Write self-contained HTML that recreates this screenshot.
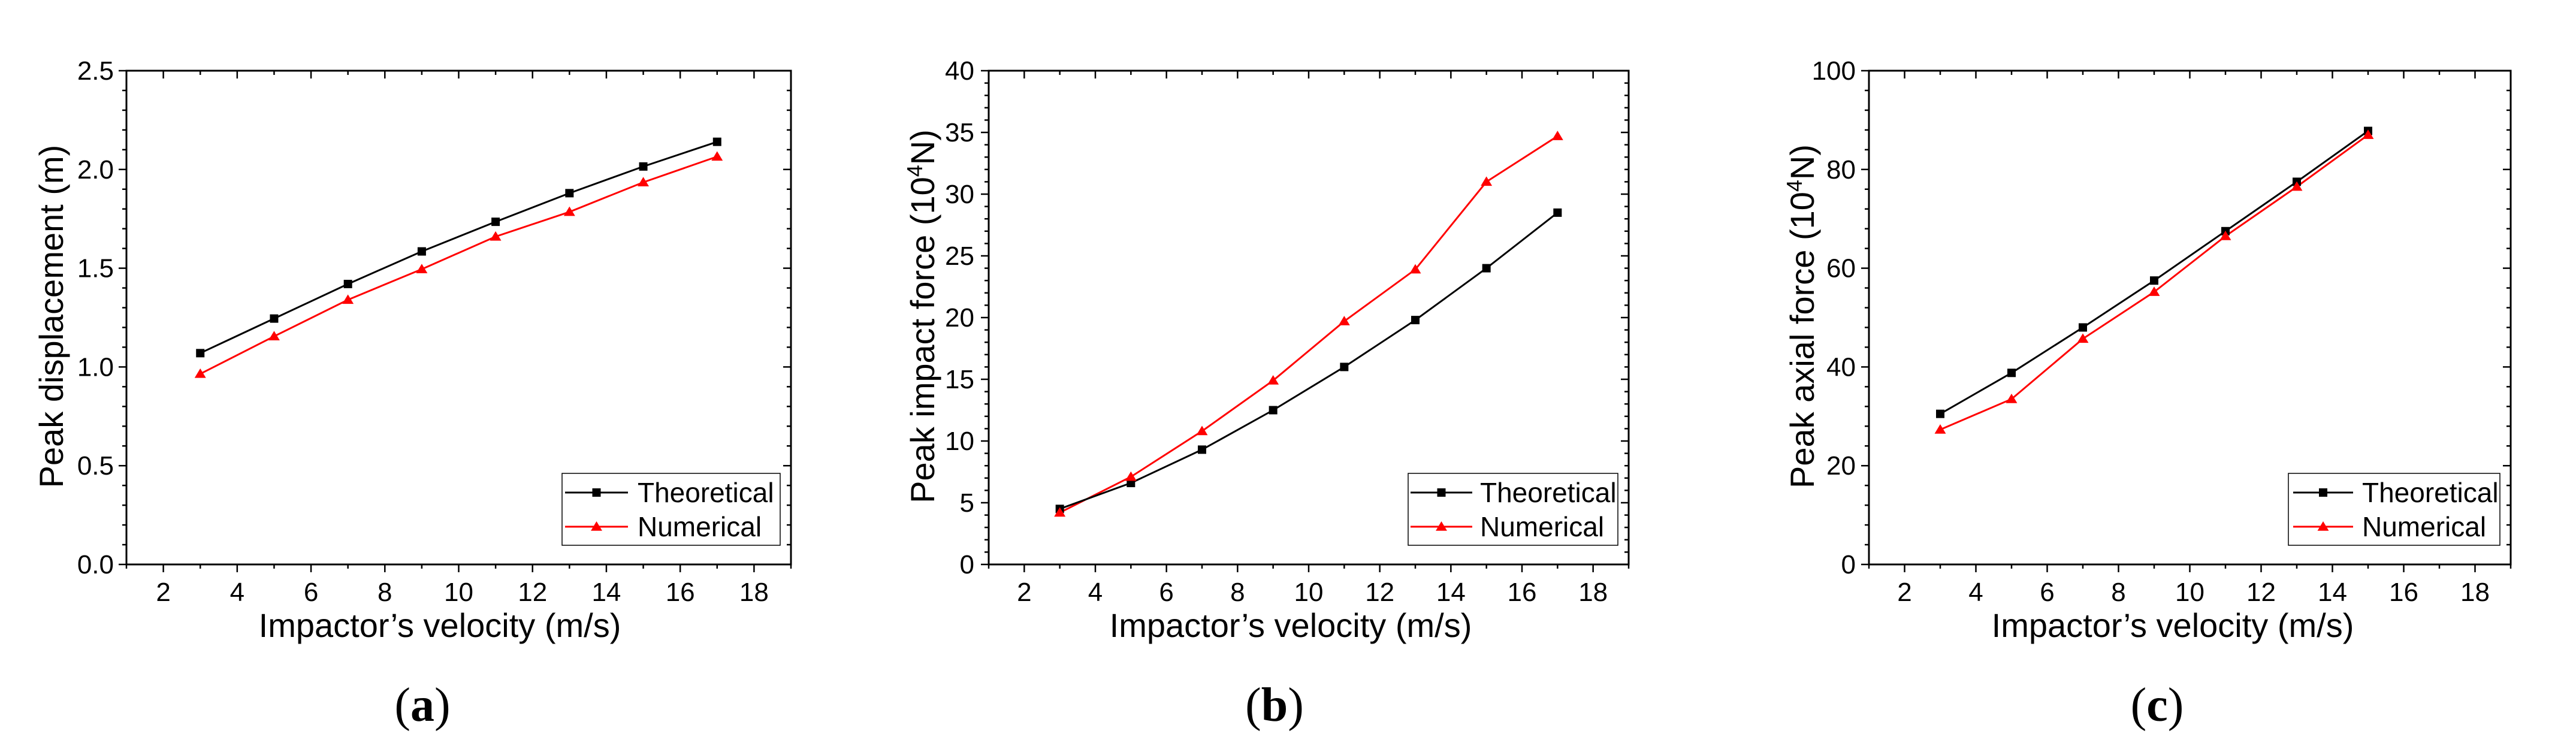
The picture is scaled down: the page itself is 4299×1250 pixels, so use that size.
<!DOCTYPE html>
<html><head><meta charset="utf-8"><style>
html,body{margin:0;padding:0;background:#fff;}
svg{display:block;font-family:"Liberation Sans",Arial,sans-serif;}
</style></head><body>
<svg id="fig" width="4299" height="1250" viewBox="0 0 4299 1250" xmlns="http://www.w3.org/2000/svg"></svg>
<script>
const velocities = [3,5,7,9,11,13,15,17];
const velocitiesC = [3,5,7,9,11,13,15];
const dispTheo = [1.07,1.245,1.42,1.585,1.735,1.88,2.015,2.14];
const dispNum = [0.965,1.155,1.34,1.495,1.66,1.785,1.935,2.065];
const impactTheo = [4.5,6.6,9.3,12.5,16,19.8,24,28.5];
const impactNum = [4.2,7.1,10.8,14.9,19.7,23.9,31,34.7];
const axialTheo = [30.5,38.8,48,57.5,67.5,77.5,87.8];
const axialNum = [27.3,33.5,45.7,55.2,66.5,76.5,87];
const xTicks = [2,4,6,8,10,12,14,16,18];
const yTicksA = ["0.0","0.5","1.0","1.5","2.0","2.5"];
const yTicksB = ["0","5","10","15","20","25","30","35","40"];
const yTicksC = ["0","20","40","60","80","100"];

const NS="http://www.w3.org/2000/svg";
const svg=document.getElementById('fig');
function mk(tag,attrs,parent){const e=document.createElementNS(NS,tag);for(const k in attrs)e.setAttribute(k,attrs[k]);(parent||svg).appendChild(e);return e;}

const panels=[
 {key:'a',L:211,R:1320,yMax:2.5,yStep:0.5,yLabels:yTicksA,xs:velocities,theo:dispTheo,num:dispNum,
  title:'Peak displacement (m)',sup:false,titleX:85,tickR:190,leg:[938,1302,943,1048,1064],cap:705,xt:734},
 {key:'b',L:1650,R:2718,yMax:40,yStep:5,yLabels:yTicksB,xs:velocities,theo:impactTheo,num:impactNum,
  title:'Peak impact force (10',sup:true,titleX:1539,tickR:1626,leg:[2350,2700,2354,2457,2470],cap:2127,xt:2154},
 {key:'c',L:3119,R:4190,yMax:100,yStep:20,yLabels:yTicksC,xs:velocitiesC,theo:axialTheo,num:axialNum,
  title:'Peak axial force (10',sup:true,titleX:3007,tickR:3097,leg:[3819,4172,3827,3927,3942],cap:3600,xt:3626}
];
const T=118,B=942,X0=1,X1=19;

panels.forEach(p=>{
  const g=mk('g',{});
  
  
  const sx=v=>p.L+(v-X0)/(X1-X0)*(p.R-p.L);
  const sy=v=>B-v/p.yMax*(B-T);
  const fr=mk('rect',{x:p.L,y:T,width:p.R-p.L,height:B-T,fill:'none',stroke:'#000','stroke-width':3},g);
  
  
  for(let v=X0;v<=X1;v++){
    const major=(v%2===0);const len=major?13:7;const x=sx(v);
    mk('line',{x1:x,x2:x,y1:B,y2:B+len,stroke:'#000','stroke-width':2.5},g);
    mk('line',{x1:x,x2:x,y1:T,y2:T+len,stroke:'#000','stroke-width':2.5},g);
  }
  xTicks.forEach(v=>{
    const t=mk('text',{x:sx(v),y:1003,'font-size':44,'text-anchor':'middle'},g);
    t.textContent=v;
    
    
  });
  const minor=p.yStep/5;
  for(let i=0;i<=Math.round(p.yMax/minor);i++){
    const v=i*minor;const major=(i%5===0);const len=major?13:7;const y=sy(v);
    mk('line',{x1:p.L-len,x2:p.L,y1:y,y2:y,stroke:'#000','stroke-width':2.5},g);
    mk('line',{x1:p.R-len,x2:p.R,y1:y,y2:y,stroke:'#000','stroke-width':2.5},g);
  }
  p.yLabels.forEach(lbl=>{
    const t=mk('text',{x:p.tickR,y:sy(parseFloat(lbl))+15,'font-size':44,'text-anchor':'end'},g);
    t.textContent=lbl;
    
    
  });
  const xt=mk('text',{x:p.xt,y:1063,'font-size':56,'text-anchor':'middle'},g);
  xt.textContent='Impactor\u2019s velocity (m/s)';
  
  
  const yt=mk('text',{x:0,y:0,'font-size':56,'text-anchor':'middle',transform:`translate(${p.titleX+20},528) rotate(-90)`},g);
  
  
  if(p.sup){
    yt.appendChild(document.createTextNode(p.title));
    const s=mk('tspan',{'font-size':36,dy:-20},yt);s.textContent='4';
    const s2=mk('tspan',{dy:20},yt);s2.textContent='N)';
  } else yt.textContent=p.title;
  const tri=(x,y,s)=>`${x},${y-s} ${x-s*1.05},${y+s*0.75} ${x+s*1.05},${y+s*0.75}`;
  const theoPts=p.xs.map((v,i)=>sx(v)+','+sy(p.theo[i])).join(' ');
  const numPts=p.xs.map((v,i)=>sx(v)+','+sy(p.num[i])).join(' ');
  const ln=mk('polyline',{points:numPts,fill:'none',stroke:'#ff0000','stroke-width':3},g);
  
  
  const lt=mk('polyline',{points:theoPts,fill:'none',stroke:'#000','stroke-width':3},g);
  
  
  p.xs.forEach((v,i)=>{
    const m=mk('rect',{x:sx(v)-7,y:sy(p.theo[i])-7,width:14,height:14,fill:'#000'},g);
    
    
  });
  p.xs.forEach((v,i)=>{
    const m=mk('polygon',{points:tri(sx(v),sy(p.num[i]),9),fill:'#ff0000'},g);
    
    
  });
  const [lx0,lx1,ll0,ll1,tx]=p.leg;
  const lg=mk('g',{},g);
  
  
  mk('rect',{x:lx0,y:790,width:lx1-lx0,height:120,fill:'#fff',stroke:'#000','stroke-width':1.5},lg);
  mk('line',{x1:ll0,x2:ll1,y1:822,y2:822,stroke:'#000','stroke-width':3},lg);
  mk('rect',{x:(ll0+ll1)/2-7,y:815,width:14,height:14,fill:'#000'},lg);
  const t1=mk('text',{x:tx,y:838,'font-size':46},lg);t1.textContent='Theoretical';
  
  
  mk('line',{x1:ll0,x2:ll1,y1:879,y2:879,stroke:'#ff0000','stroke-width':3},lg);
  mk('polygon',{points:tri((ll0+ll1)/2,879,9),fill:'#ff0000'},lg);
  const t2=mk('text',{x:tx,y:895,'font-size':46},lg);t2.textContent='Numerical';
  
  
  const c=mk('text',{x:p.cap,y:1203,'font-size':80,'text-anchor':'middle','font-family':'"Liberation Serif",serif'},g);
  c.appendChild(document.createTextNode('('));
  const cb=mk('tspan',{'font-weight':'bold'},c);cb.textContent=p.key;
  c.appendChild(document.createTextNode(')'));
  
  
});
</script>
</body></html>
